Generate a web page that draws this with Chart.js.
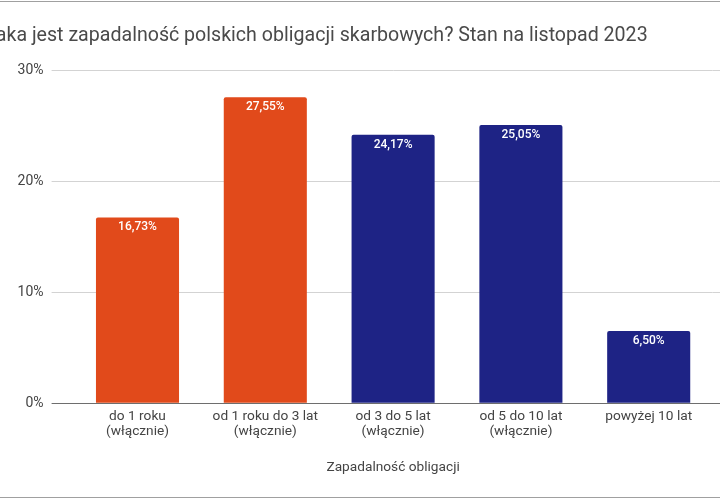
<!DOCTYPE html>
<html><head><meta charset="utf-8">
<script src="https://cdn.jsdelivr.net/npm/chart.js@4/dist/chart.umd.min.js"></script>
<style>
html,body{margin:0;padding:0;background:#fff;overflow:hidden;width:720px;height:500px;}
#wrap{position:absolute;left:-15px;top:0;width:743px;height:500px;}
.line{position:absolute;left:0;width:720px;height:1px;background:#a0a0a0;}
</style></head><body>
<div id="wrap"><canvas id="c" width="743" height="500"></canvas></div>
<div class="line" style="top:1px"></div>
<div class="line" style="top:497px"></div>
<script>
const titleText = "Jaka jest zapadalność polskich obligacji skarbowych? Stan na listopad 2023";
const xAxisTitle = "Zapadalność obligacji";
const categories = [["do 1 roku","(włącznie)"],["od 1 roku do 3 lat","(włącznie)"],["od 3 do 5 lat","(włącznie)"],["od 5 do 10 lat","(włącznie)"],"powyżej 10 lat"];
const values = [16.73, 27.55, 24.17, 25.05, 6.50];
const valueLabels = ["16,73%","27,55%","24,17%","25,05%","6,50%"];
const barColors = ["#E14A1B","#E14A1B","#1E2385","#1E2385","#1E2385"];
const yMin = 0, yMax = 30, yStep = 10;

const FONT = "Roboto, 'Liberation Sans', sans-serif";
const GRID = "#d3d3d3";
const ZERO = "#6e6e6e";

const labelPlugin = {
  id: 'barLabels',
  afterDatasetsDraw(chart) {
    const ctx = chart.ctx;
    const meta = chart.getDatasetMeta(0);
    ctx.save();
    ctx.fillStyle = '#ffffff';
    ctx.font = "500 12px " + FONT;
    ctx.textAlign = 'center';
    ctx.textBaseline = 'middle';
    meta.data.forEach((bar, i) => {
      ctx.fillText(valueLabels[i], bar.x, bar.y + 10);
    });
    ctx.restore();
  }
};
const gridExtend = {
  id: 'gridExtend',
  afterDraw(chart) {
    const ctx = chart.ctx, ys = chart.scales.y, ca = chart.chartArea;
    ctx.save();
    ctx.lineWidth = 1;
    ys.ticks.forEach(t => {
      const y = Math.round(ys.getPixelForValue(t.value)) + 0.5;
      ctx.strokeStyle = t.value === 0 ? ZERO : GRID;
      ctx.beginPath();
      ctx.moveTo(ca.right, y);
      ctx.lineTo(chart.width, y);
      ctx.stroke();
    });
    ctx.restore();
  }
};

new Chart(document.getElementById('c'), {
  type: 'bar',
  data: {
    labels: categories,
    datasets: [{
      data: values,
      backgroundColor: barColors,
      borderRadius: 2,
      borderSkipped: 'bottom',
      categoryPercentage: 1,
      barPercentage: 0.65
    }]
  },
  options: {
    responsive: false,
    animation: false,
    layout: { padding: { left: 0, right: 15.4, top: 0, bottom: 0 } },
    plugins: {
      legend: { display: false },
      tooltip: { enabled: false },
      title: {
        display: true,
        text: titleText,
        align: 'start',
        color: '#4a4a4a',
        font: { family: FONT, size: 19.6, weight: 'normal', lineHeight: 1.2 },
        padding: { top: 24.2, bottom: 22.3 }
      }
    },
    scales: {
      x: {
        grid: { display: false, drawTicks: false },
        border: { display: true, color: ZERO },
        ticks: {
          color: '#444',
          font: { family: FONT, size: 13.7, lineHeight: 1.1 },
          padding: 6,
          maxRotation: 0,
          autoSkip: false
        },
        title: {
          display: true,
          text: xAxisTitle,
          color: '#444',
          font: { family: FONT, size: 13.7, lineHeight: 1.1 },
          padding: { top: 15, bottom: 24.5 }
        }
      },
      y: {
        min: yMin, max: yMax,
        afterFit(s) { s.width = 88.6; },
        grid: {
          color: (c) => c.tick && c.tick.value === 0 ? ZERO : GRID,
          tickLength: 22,
          drawTicks: true
        },
        border: { display: false },
        ticks: {
          stepSize: yStep,
          padding: 8,
          color: '#444',
          font: { family: FONT, size: 14 },
          callback: (v) => v + '%'
        }
      }
    }
  },
  plugins: [labelPlugin, gridExtend]
});
</script>
</body></html>
